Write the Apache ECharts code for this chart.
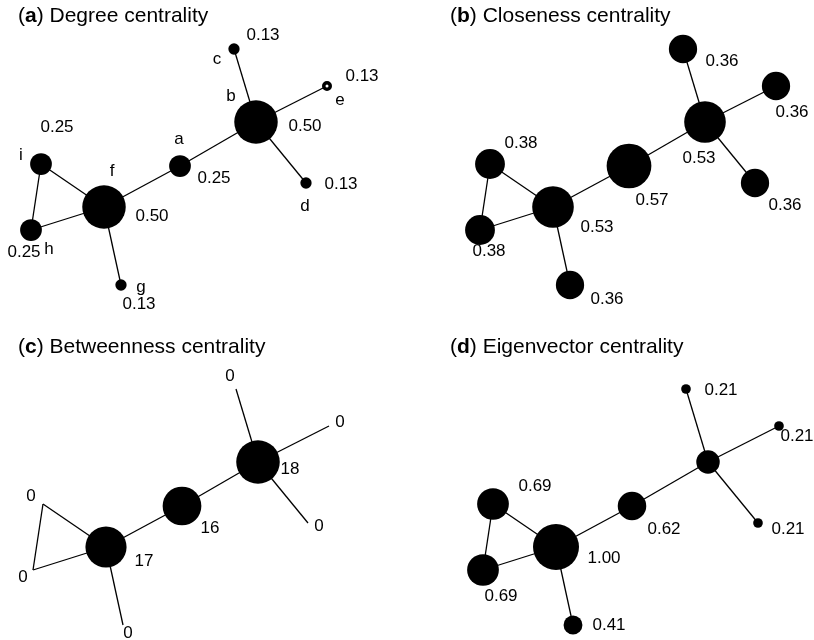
<!DOCTYPE html>
<html>
<head>
<meta charset="utf-8">
<script src="https://cdn.jsdelivr.net/npm/echarts@6/dist/echarts.min.js"></script>
<style>html,body{margin:0;padding:0;background:#fff;}#chart{width:814px;height:640px;}</style>
</head>
<body>
<div id="chart"></div>
<script>
// ---- data ----
const nodeNames = ['a', 'b', 'c', 'd', 'e', 'f', 'g', 'h', 'i'];
const layoutX = [180, 256, 234, 306, 327, 104, 121, 31, 41];
const layoutY = [166, 122, 49, 183, 86, 207, 285, 230, 164];
const edges = [['c', 'b'], ['e', 'b'], ['d', 'b'], ['b', 'a'], ['a', 'f'], ['f', 'i'], ['f', 'h'], ['i', 'h'], ['f', 'g']];
const degree = [0.25, 0.50, 0.13, 0.13, 0.13, 0.50, 0.13, 0.25, 0.25];
const closeness = [0.57, 0.53, 0.36, 0.36, 0.36, 0.53, 0.36, 0.38, 0.38];
const betweenness = [16, 18, 0, 0, 0, 17, 0, 0, 0];
const eigenvector = [0.62, 0.51, 0.21, 0.21, 0.21, 1.00, 0.41, 0.69, 0.69];
const panelLetters = ['a', 'b', 'c', 'd'];
const panelTitles = ['Degree centrality', 'Closeness centrality', 'Betweenness centrality', 'Eigenvector centrality'];
const eigenUnlabelled = ['b'];

// ---- styles / placement ----
const FONT = '"Liberation Sans", Arial, Helvetica, sans-serif';
const W = 360, H = 300;
const panelStyle = [
  { ox: 0, oy: 0, tx: 18, ty: 6, scale: 87, decimals: 2,
    off: [[34,12],[49,4],[29,-14],[35,1],[35,-10],[48,9],[18,19],[-7,22],[16,-37]] },
  { ox: 449, oy: 0, tx: 450, ty: 6, scale: 78.5, decimals: 2,
    off: [[23,34],[-6,36],[39,12],[30,22],[16,26],[44,20],[37,14],[9,21],[31,-21]] },
  { ox: 2, oy: 340, tx: 18, ty: 337, scale: 2.42, decimals: 0,
    off: [[28,22],[32,7],[-6,-13],[11,3],[11,-4],[38,14],[5,8],[-10,7],[-12,-8]] },
  { ox: 452, oy: 340, tx: 450, ty: 337, scale: 46, decimals: 2,
    off: [[32,23],[0,0],[35,1],[30,6],[18,10],[48,11],[36,0],[18,26],[42,-18]] }
];
const letterOff = [[-1,-27],[-25,-26],[-17,10],[-1,23],[13,14],[8,-36],[20,2],[18,19],[-20,-9]];
const hollow = { 0: ['e'] };

const panelValues = [degree, closeness, betweenness, eigenvector];

const chart = echarts.init(document.getElementById('chart'), null, { renderer: 'canvas' });

const series = panelValues.map((vals, p) => {
  const st = panelStyle[p];
  const hidden = p === 3 ? eigenUnlabelled : [];
  const hol = hollow[p] || [];
  return {
    type: 'graph',
    layout: 'none',
    coordinateSystem: 'cartesian2d',
    xAxisIndex: p,
    yAxisIndex: p,
    silent: true,
    symbol: 'circle',
    data: nodeNames.map((n, j) => ({
      name: n,
      value: [layoutX[j], layoutY[j]],
      symbolSize: hol.includes(n) ? 6.5 : vals[j] * st.scale,
      itemStyle: hol.includes(n)
        ? { color: '#fff', borderColor: '#000', borderWidth: 3.5 }
        : { color: '#000', borderWidth: 0 },
      label: {
        show: !hidden.includes(n),
        position: 'inside',
        offset: st.off[j],
        formatter: vals[j].toFixed(st.decimals),
        color: '#000',
        fontSize: 17,
        fontFamily: FONT
      }
    })),
    links: edges.map(([s, t]) => ({ source: s, target: t })),
    lineStyle: { color: '#000', width: 1.3, opacity: 1, curveness: 0 },
    emphasis: { disabled: true },
    z: 2
  };
});

// node letters on panel (a)
series.push({
  type: 'graph',
  layout: 'none',
  coordinateSystem: 'cartesian2d',
  xAxisIndex: 0,
  yAxisIndex: 0,
  silent: true,
  symbol: 'circle',
  symbolSize: 0,
  data: nodeNames.map((n, j) => ({
    name: n,
    value: [layoutX[j], layoutY[j]],
    label: {
      show: true,
      position: 'inside',
      offset: letterOff[j],
      formatter: n,
      color: '#000',
      opacity: 1,
      fontSize: 17,
      fontFamily: FONT
    }
  })),
  links: [],
  emphasis: { disabled: true },
  z: 3
});

const option = {
  animation: false,
  backgroundColor: '#fff',
  title: panelStyle.map((st, p) => ({
    left: st.tx,
    top: st.ty,
    padding: 0,
    text: '(' + '{b|' + panelLetters[p] + '}) ' + panelTitles[p],
    textStyle: {
      fontSize: 21,
      fontWeight: 'normal',
      color: '#000',
      fontFamily: FONT,
      rich: { b: { fontSize: 21, fontWeight: 'bold', color: '#000', fontFamily: FONT } }
    }
  })),
  grid: panelStyle.map(st => ({ left: st.ox, top: st.oy, width: W, height: H, containLabel: false, show: false })),
  xAxis: panelStyle.map((st, p) => ({ type: 'value', gridIndex: p, min: 0, max: W, show: false })),
  yAxis: panelStyle.map((st, p) => ({ type: 'value', gridIndex: p, min: 0, max: H, inverse: true, show: false })),
  series: series
};
chart.setOption(option);
</script>
</body>
</html>
